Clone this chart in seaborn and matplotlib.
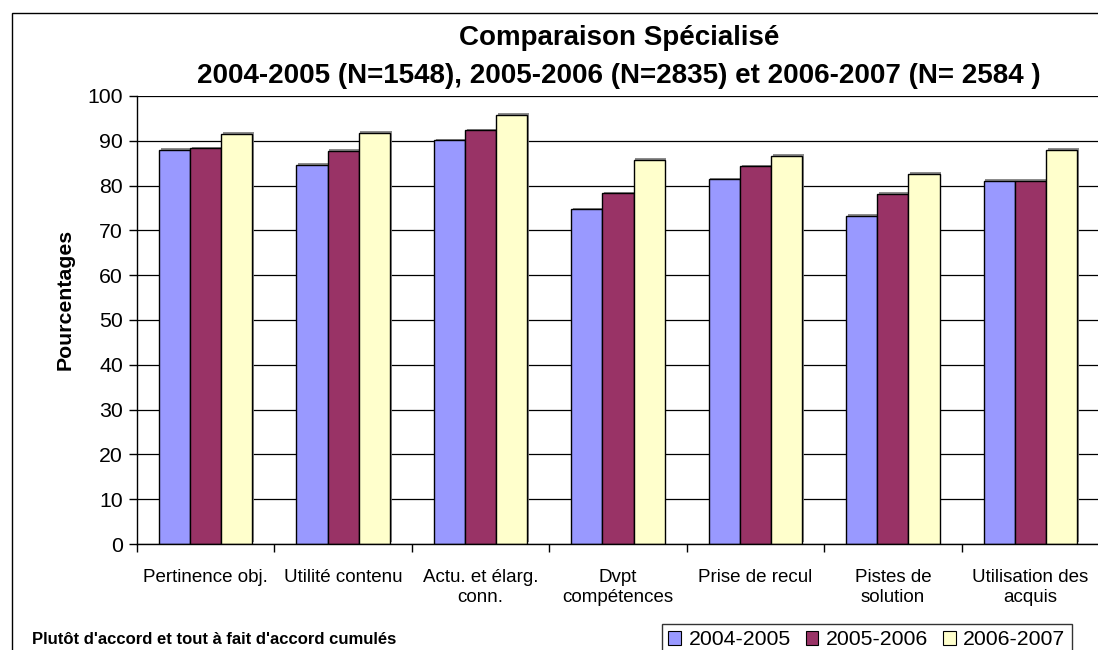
import matplotlib
matplotlib.use("Agg")
import matplotlib.pyplot as plt
import matplotlib.patheffects as pe
from matplotlib.patches import Rectangle
from matplotlib.ticker import FixedLocator, MultipleLocator
import numpy as np
import pandas as pd
import seaborn as sns

# Survey indicators and yearly cumulative agreement rates (%)
categories = [
    "Pertinence obj.",
    "Utilité contenu",
    "Actu. et élarg.\nconn.",
    "Dvpt\ncompétences",
    "Prise de recul",
    "Pistes de\nsolution",
    "Utilisation des\nacquis",
]
years = ["2004-2005", "2005-2006", "2006-2007"]
values_2004_2005 = [88.0, 84.6, 90.1, 74.7, 81.4, 73.3, 81.1]
values_2005_2006 = [88.3, 87.8, 92.3, 78.3, 84.3, 78.1, 81.1]
values_2006_2007 = [91.5, 91.8, 95.8, 85.8, 86.7, 82.6, 88.0]
colors = ["#9999FF", "#993366", "#FFFFCC"]

df = pd.DataFrame({
    "Indicateur": categories * 3,
    "Année": np.repeat(years, len(categories)),
    "Pourcentage": values_2004_2005 + values_2005_2006 + values_2006_2007,
})

sns.set_theme(style="white")
plt.rcParams["font.family"] = ["Liberation Sans", "DejaVu Sans"]
plt.rcParams["text.color"] = "black"
plt.rcParams["axes.labelcolor"] = "black"
plt.rcParams["xtick.color"] = "black"
plt.rcParams["ytick.color"] = "black"

W, H = 1098, 650
fig = plt.figure(figsize=(W / 100, H / 100), dpi=100)

# plot area in pixel coordinates
left, right, top, bottom = 137, 1099, 96, 544
ax = fig.add_axes([left / W, 1 - bottom / H, (right - left) / W, (bottom - top) / H])

sns.barplot(
    data=df, x="Indicateur", y="Pourcentage", hue="Année",
    palette=colors, order=categories, hue_order=years,
    width=0.68, edgecolor="black", linewidth=1.0, saturation=1,
    ax=ax, legend=False, zorder=3,
)
for bar in ax.patches:
    bar.set_path_effects([
        pe.SimplePatchShadow(offset=(1.2, 1.2), shadow_rgbFace="#808080", alpha=0.9),
        pe.Normal(),
    ])

ax.set_xlim(-0.5, len(categories) - 0.5)
ax.set_ylim(0, 100)
ax.yaxis.set_major_locator(MultipleLocator(10))
ax.grid(axis="y", color="black", linewidth=0.9, zorder=0)
ax.grid(axis="x", visible=False)
ax.set_axisbelow(True)

for side in ["top", "right"]:
    ax.spines[side].set_visible(False)
for side in ["left", "bottom"]:
    ax.spines[side].set_color("black")
    ax.spines[side].set_linewidth(1.0)
    ax.spines[side].set_zorder(4)

ax.tick_params(axis="y", which="major", left=True, direction="out", length=6,
               width=1, color="black", labelsize=15.3, pad=4)
ax.tick_params(axis="x", which="major", bottom=False, labelsize=13.5, pad=12)
ax.xaxis.set_minor_locator(FixedLocator(np.arange(-0.5, len(categories), 1.0)))
ax.tick_params(axis="x", which="minor", bottom=True, direction="out", length=6,
               width=1, color="black")
for lab in ax.get_xticklabels():
    lab.set_verticalalignment("top")
    lab.set_linespacing(1.2)

ax.set_xlabel("")
ax.set_ylabel("Pourcentages", fontsize=15.3, fontweight="bold", va="center")
ax.yaxis.set_label_coords((65 - left) / (right - left), (bottom - 299) / (bottom - top))

fig.text(0.5636, 1 - 38 / H, "Comparaison Spécialisé", ha="center", va="center",
         fontsize=20, fontweight="bold")
fig.text(0.5636, 1 - 76 / H,
         "2004-2005 (N=1548), 2005-2006 (N=2835) et 2006-2007 (N= 2584 )",
         ha="center", va="center", fontsize=20, fontweight="bold")

fig.text(32 / W, 1 - 640 / H, "Plutôt d'accord et tout à fait d'accord cumulés",
         ha="left", va="center", fontsize=12, fontweight="bold")

# outer chart border
fig.patches.append(Rectangle((12 / W, -0.01), 1.0, 1 - 13 / H + 0.01,
                             transform=fig.transFigure, fill=False,
                             edgecolor="black", linewidth=1.0))

handles = [Rectangle((0, 0), 1, 1, facecolor=c, edgecolor="black", linewidth=0.8)
           for c in colors]
leg = fig.legend(handles, years, ncol=3, loc="upper left",
                 bbox_to_anchor=(662 / W, 1 - 624 / H), frameon=True,
                 fontsize=15.3, handlelength=0.6, handleheight=0.6,
                 handletextpad=0.35, columnspacing=0.7, borderpad=0.3,
                 borderaxespad=0)
leg.get_frame().set_edgecolor("black")
leg.get_frame().set_linewidth(1.0)
leg.get_frame().set_boxstyle("square", pad=0)

fig.savefig("out.png", dpi=100)
